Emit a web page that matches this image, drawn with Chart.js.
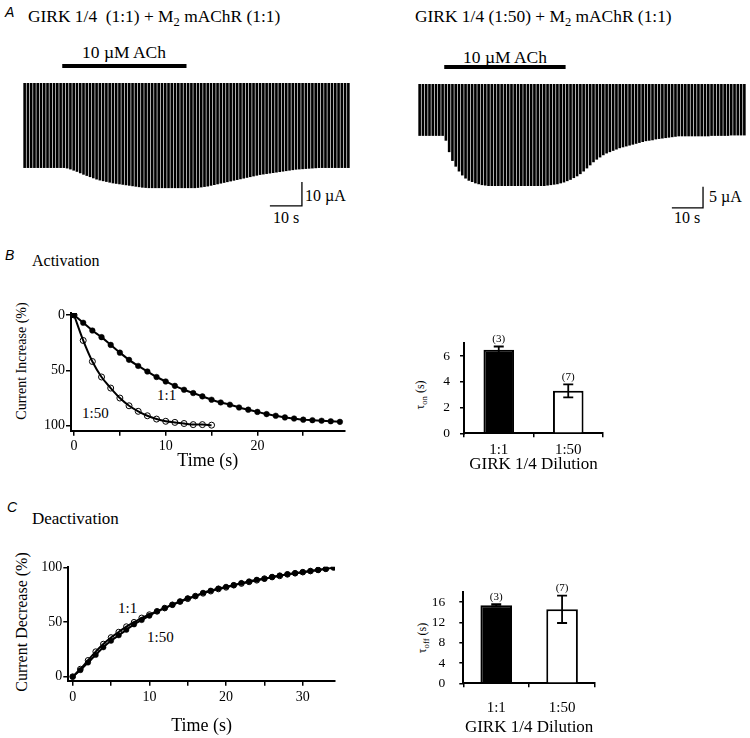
<!DOCTYPE html>
<html>
<head>
<meta charset="utf-8">
<title>GIRK 1/4 activation and deactivation</title>
<script src="https://cdn.jsdelivr.net/npm/chart.js@4.4.1/dist/chart.umd.min.js"></script>
<style>
html, body { margin: 0; padding: 0; background: #fff; }
#fig { position: relative; width: 750px; height: 738px; overflow: hidden; font-family: "Liberation Serif", "Times New Roman", serif; color: #000; }
#fig canvas { position: absolute; }
.t { position: absolute; white-space: nowrap; line-height: 1; font-size: 16px; transform: translateY(-50%); }
.p { font-family: "Liberation Sans", Arial, sans-serif; font-style: italic; font-size: 14px; }
.t sub, .rot sub { font-size: 0.72em; vertical-align: -0.3em; line-height: 0; }
.rot { position: absolute; white-space: nowrap; font-size: 12px; line-height: 1; transform: translate(-50%, -50%) rotate(-90deg); }
</style>
</head>
<body>
<div id="fig">
  <div class="t p" style="left:5px;top:12px">A</div>
  <div class="t" style="left:28px;top:17px;font-size:17.4px">GIRK 1/4&nbsp;&nbsp;(1:1) + M<sub>2</sub> mAChR (1:1)</div>
  <div class="t" style="left:415px;top:17px;font-size:17.4px">GIRK 1/4 (1:50) + M<sub>2</sub> mAChR (1:1)</div>
  <div class="t" style="left:82px;top:53px;font-size:17.5px">10 µM ACh</div>
  <div class="t" style="left:463px;top:58px;font-size:17.5px">10 µM ACh</div>
  <div class="t" style="left:305px;top:196px">10 µA</div>
  <div class="t" style="left:273px;top:218px">10 s</div>
  <div class="t" style="left:709px;top:197px">5 µA</div>
  <div class="t" style="left:674px;top:218px">10 s</div>

  <div class="t p" style="left:5px;top:255px">B</div>
  <div class="t" style="left:32px;top:261px">Activation</div>
  <div class="rot" style="left:22px;top:361px;font-size:14px">Current Increase (%)</div>
  <div class="t" style="left:157px;top:395px;font-size:15px">1:1</div>
  <div class="t" style="left:82px;top:413px;font-size:15px">1:50</div>
  <div class="rot" style="left:420px;top:395px">τ<sub>on</sub> (s)</div>

  <div class="t p" style="left:7px;top:507px">C</div>
  <div class="t" style="left:32px;top:518px;font-size:17px">Deactivation</div>
  <div class="rot" style="left:22px;top:622px;font-size:16px">Current Decrease (%)</div>
  <div class="t" style="left:118px;top:608px;font-size:15px">1:1</div>
  <div class="t" style="left:147px;top:637px;font-size:15px">1:50</div>
  <div class="rot" style="left:422px;top:638px">τ<sub>off</sub> (s)</div>

  <canvas id="traceL" width="327" height="175" style="left:23px;top:40px"></canvas>
  <canvas id="traceR" width="328" height="175" style="left:418px;top:40px"></canvas>
  <canvas id="actCurve" width="360" height="190" style="left:0px;top:290px"></canvas>
  <canvas id="tauOnBar" width="210" height="160" style="left:400px;top:320px"></canvas>
  <canvas id="deactCurve" width="360" height="193" style="left:0px;top:545px"></canvas>
  <canvas id="tauOffBar" width="210" height="168" style="left:400px;top:570px"></canvas>
</div>

<script>
// ── DATA ─────────────────────────────────────────────
// A: peak inward current of each sweep (µA), one sweep ≈ 1 s
const sweeps11 = [
  35.4, 35.4, 35.4, 35.4, 35.4, 35.4, 35.4, 35.4, 35.4, 35.4, 35.4, 35.4, 35.4,
  35.6, 36.0, 36.5, 37.0, 37.6, 38.2, 38.7, 39.2, 39.7, 40.2,
  40.6, 40.9, 41.2, 41.5, 41.8, 42.0, 42.2, 42.4, 42.6, 42.8,
  43.0, 43.2, 43.4, 43.6, 43.7,
  43.8, 43.8, 43.8, 43.8, 43.8, 43.8, 43.8, 43.8, 43.8, 43.8, 43.8, 43.8, 43.8, 43.8, 43.8,
  43.7, 43.5, 43.3, 43.1, 42.8, 42.5, 42.2, 41.9, 41.6, 41.3,
  41.0, 40.7, 40.4, 40.1, 39.8, 39.5, 39.2, 38.9, 38.6, 38.3,
  38.1, 37.9, 37.7, 37.5, 37.3, 37.1, 36.9, 36.7, 36.5, 36.3,
  36.1, 36.0, 35.9, 35.8, 35.7, 35.6, 35.5,
  35.4, 35.4, 35.4, 35.4, 35.4, 35.4, 35.4, 35.4, 35.4, 35.4
];
const sweeps150 = [
  11.8, 11.8, 11.8, 11.8, 11.8, 11.8, 11.8, 11.8,
  12.9, 15.5, 17.5, 18.8, 19.9, 20.8, 21.5, 22.0, 22.3, 22.6, 22.8, 23.0, 23.1,
  23.2, 23.2, 23.2, 23.2, 23.2, 23.2, 23.2, 23.2, 23.2, 23.2, 23.2, 23.2, 23.2, 23.2, 23.2, 23.2, 23.2, 23.2,
  23.1, 23.0, 22.9, 22.8, 22.6, 22.4, 22.1, 21.8, 21.4, 21.0,
  20.5, 19.9, 19.2, 18.5, 17.8, 17.2, 16.7, 16.2, 15.8, 15.5,
  15.2, 14.9, 14.6, 14.4, 14.2, 14.0, 13.8, 13.6, 13.4, 13.2,
  13.0, 12.9, 12.8, 12.6, 12.5, 12.4, 12.3, 12.2, 12.1, 12.0,
  11.9, 11.9, 11.9, 11.9, 11.9, 11.9, 11.9, 11.9, 11.9, 11.9,
  11.8, 11.8, 11.8, 11.8, 11.8, 11.8, 11.7, 11.7, 11.7, 11.7, 11.7
];
const ach11 = [12, 50];     // sweeps during 10 µM ACh
const ach150 = [8, 45];
const scale11 = { x0: 75.5, x1: 85.3, y0: -51.2, y1: -41.2 };   // 10 s / 10 µA
const scale150 = { x0: 77.4, x1: 86.9, y0: -28.2, y1: -23.4 };  // 10 s / 5 µA

// B: activation, current increase (%)
const actTime11 = [0, 1, 2, 3, 4, 5, 6, 7, 8, 9, 10, 11, 12, 13, 14, 15, 16, 17, 18, 19, 20, 21, 22, 23, 24, 25, 26, 27, 28, 29];
const act11 = [0, 7, 14, 20, 27, 34, 40.5, 46, 51, 56, 60, 64, 67.5, 70.5, 73.5, 76.5, 79, 81, 83.5, 85.5, 87.5, 89.5, 91, 92.5, 93.5, 94.5, 95, 95.5, 96, 96.5];
const actTime150 = [0, 1, 2, 3, 4, 5, 6, 7, 8, 9, 10, 11, 12, 13, 14, 15];
const act150 = [0, 23, 42, 56, 66, 75, 82, 87, 91, 94, 96, 97, 98, 99, 99, 99.5];

// C: deactivation, current decrease (%)
const deactTime11 = [0, 1, 2, 3, 4, 5, 6, 7, 8, 9, 10, 11, 12, 13, 14, 15, 16, 17, 18, 19, 20, 21, 22, 23, 24, 25, 26, 27, 28, 29, 30, 31, 32, 33, 34];
const deact11 = [0, 6, 13, 20, 27, 33, 38, 43, 48, 52, 56, 60, 63, 66, 69, 72, 74, 77, 79, 81, 82.5, 84, 86, 87.5, 89, 90, 91.5, 93, 94, 95, 96, 97, 98, 99, 100];
const deactTime150 = [0, 1, 2, 3, 4, 5, 6, 7, 8, 9, 10, 11, 12, 13, 14, 15, 16, 17, 18, 19, 20, 21, 22, 23, 24, 25, 26, 27, 28, 29, 30, 31, 32, 33];
const deact150 = [0, 7, 15, 23, 30, 36, 41, 46, 50, 54, 57, 60, 63, 66, 69, 71.5, 74, 76.5, 78.5, 80.5, 82, 84, 85.5, 87, 88.5, 90, 91.5, 92.5, 94, 95, 96, 97, 98, 99];

// time constants vs GIRK 1/4 dilution
const dilutions = ['1:1', '1:50'];
const tauOn = [6.5, 3.3];
const tauOnSem = [0.25, 0.5];
const tauOnN = [3, 7];
const tauOff = [15.4, 14.6];
const tauOffSem = [0.2, 2.7];
const tauOffN = [3, 7];

// ── SHARED STYLE ─────────────────────────────────────
const SERIF = '"Liberation Serif", "Times New Roman", serif';
const base = { responsive: false, animation: false, devicePixelRatio: 1, events: [] };
const noPlug = { legend: { display: false }, tooltip: { enabled: false } };
const axisGrid = { display: true, drawOnChartArea: false, drawTicks: true, tickLength: 5, color: '#000', lineWidth: 1.5 };
const axisBorder = { display: true, color: '#000', width: 2 };
const fixTicks = vals => s => { s.ticks = vals.map(v => ({ value: v })); };

// ── A: CURRENT TRACES ────────────────────────────────
function traceDecor(ach, bar) {
    return {
        id: 'traceDecor',
        afterDatasetsDraw(chart) {
            const { ctx, chartArea: a, scales: { x, y } } = chart;
            const w = x.width / chart.data.labels.length, px = s => x.left + s * w;
            ctx.save();
            ctx.fillStyle = '#000';
            ctx.fillRect(px(ach[0]), a.top - 19, px(ach[1]) - px(ach[0]), 4);
            ctx.strokeStyle = '#000'; ctx.lineWidth = 1.3;
            ctx.beginPath();
            ctx.moveTo(px(bar.x0), y.getPixelForValue(bar.y0));
            ctx.lineTo(px(bar.x1), y.getPixelForValue(bar.y0));
            ctx.lineTo(px(bar.x1), y.getPixelForValue(bar.y1));
            ctx.stroke();
            ctx.restore();
        }
    };
}
function traceChart(id, amps, ach, bar, yMin, padTop) {
    new Chart(document.getElementById(id), {
        type: 'bar',
        data: { labels: amps.map((_, i) => i), datasets: [{ data: amps.map(a => -a), backgroundColor: '#000', barPercentage: 0.8, categoryPercentage: 1 }] },
        options: { ...base, layout: { padding: { top: padTop } }, plugins: noPlug,
            scales: { x: { display: false }, y: { display: false, min: yMin, max: 0 } } },
        plugins: [traceDecor(ach, bar)]
    });
}
traceChart('traceL', sweeps11, ach11, scale11, -55, 43);
traceChart('traceR', sweeps150, ach150, scale150, -29.8, 44);

// ── B / C: TIME COURSES ──────────────────────────────
const pts = (t, v) => t.map((x, i) => ({ x: x, y: v[i] }));
const filled = (t, v, r) => ({ data: pts(t, v), showLine: true, borderColor: '#000', borderWidth: 2, pointRadius: r, pointBackgroundColor: '#000', pointBorderColor: '#000', pointBorderWidth: 0.5, cubicInterpolationMode: 'monotone' });
const open = (t, v, r) => ({ data: pts(t, v), showLine: true, borderColor: '#000', borderWidth: 2, pointRadius: r, pointBackgroundColor: 'rgba(255,255,255,0)', pointBorderColor: '#000', pointBorderWidth: 1, cubicInterpolationMode: 'monotone' });

function curveChart(id, sets, o) {
    new Chart(document.getElementById(id), {
        type: 'scatter',
        data: { datasets: sets },
        options: { ...base, layout: { padding: o.pad }, plugins: noPlug,
            scales: {
                x: { type: 'linear', min: o.xMin, max: o.xMax, afterBuildTicks: fixTicks(o.xTicks), afterFit: s => { s.height = o.xH; },
                    ticks: { autoSkip: false, maxRotation: 0, padding: o.xPad, color: '#000', font: { family: SERIF, size: 14 }, callback: v => (v % 10 === 0 ? String(v) : '') },
                    grid: axisGrid, border: axisBorder,
                    title: { display: true, text: 'Time (s)', color: '#000', font: { family: SERIF, size: 18 }, padding: { top: 0, bottom: o.xTitlePad } } },
                y: { type: 'linear', reverse: o.reverse, min: o.yMin, max: o.yMax, afterBuildTicks: fixTicks([0, 50, 100]), afterFit: s => { s.width = o.yW; },
                    ticks: { padding: 1, color: '#000', font: { family: SERIF, size: 14 } },
                    grid: axisGrid, border: axisBorder }
            } }
    });
}
curveChart('actCurve', [open(actTime150, act150, 3), filled(actTime11, act11, 2.8)], {
    pad: { top: 23, right: 15.5 }, xMin: -0.33, xMax: 29.5, xTicks: [0, 5, 10, 15, 20, 25], xH: 49.3, xPad: 2, xTitlePad: 8,
    reverse: true, yMin: -1.8, yMax: 104.5, yW: 71
});
curveChart('deactCurve', [open(deactTime150, deact150, 2.8), filled(deactTime11, deact11, 2.7)], {
    pad: { top: 21.7, right: 25 }, xMin: -0.57, xMax: 34.2, xTicks: [0, 5, 10, 15, 20, 25, 30], xH: 57.3, xPad: 3, xTitlePad: 0.5,
    reverse: false, yMin: -3.7, yMax: 101, yW: 68.3
});

// ── B / C: TIME CONSTANT BARS ────────────────────────
const errorBars = {
    id: 'errorBars',
    afterDatasetsDraw(chart, args, opts) {
        const { ctx, scales: { y } } = chart;
        ctx.save();
        ctx.strokeStyle = '#000'; ctx.lineWidth = 1.8; ctx.fillStyle = '#000';
        ctx.font = '11px ' + SERIF; ctx.textAlign = 'center'; ctx.textBaseline = 'bottom';
        chart.getDatasetMeta(0).data.forEach((bar, i) => {
            const top = y.getPixelForValue(opts.means[i] + opts.sems[i]), bot = y.getPixelForValue(opts.means[i] - opts.sems[i]);
            ctx.beginPath();
            ctx.moveTo(bar.x, top); ctx.lineTo(bar.x, bot);
            ctx.moveTo(bar.x - 5, top); ctx.lineTo(bar.x + 5, top);
            ctx.moveTo(bar.x - 5, bot); ctx.lineTo(bar.x + 5, bot);
            ctx.stroke();
            ctx.fillText('(' + opts.ns[i] + ')', bar.x, top - 2);
        });
        ctx.restore();
    }
};
function tauChart(id, means, sems, ns, o) {
    new Chart(document.getElementById(id), {
        type: 'bar',
        data: { labels: dilutions, datasets: [{ data: means, backgroundColor: ['#000', '#fff'], borderColor: '#000', borderWidth: 2, barPercentage: o.barPct, categoryPercentage: 1 }] },
        options: { ...base, layout: { padding: o.pad },
            plugins: { ...noPlug, errorBars: { means: means, sems: sems, ns: ns } },
            scales: {
                x: { afterFit: s => { s.height = o.xH; },
                    ticks: { padding: o.xPad, color: '#000', font: { family: SERIF, size: 15 } },
                    grid: { ...axisGrid, offset: true, tickLength: 4 }, border: axisBorder,
                    title: { display: true, text: 'GIRK 1/4 Dilution', color: '#000', font: { family: SERIF, size: 17 }, padding: { top: 0, bottom: o.xTitlePad } } },
                y: { min: 0, max: o.yMax, afterBuildTicks: fixTicks(o.yTicks), afterFit: s => { s.width = o.yW; },
                    ticks: { padding: o.yPad, color: '#000', font: { family: SERIF, size: 13.5 }, callback: v => (v % o.yLabelStep === 0 ? String(v) : '') },
                    grid: { ...axisGrid, tickLength: 4 }, border: axisBorder }
            } },
        plugins: [errorBars]
    });
}
tauChart('tauOnBar', tauOn, tauOnSem, tauOnN, {
    pad: { top: 23.3, right: 7 }, barPct: 0.44, xH: 46.7, xPad: 4, xTitlePad: 5,
    yMax: 7, yTicks: [0, 1, 2, 3, 4, 5, 6, 7], yLabelStep: 2, yW: 64, yPad: 10
});
tauChart('tauOffBar', tauOff, tauOffSem, tauOffN, {
    pad: { top: 16.7, right: 15 }, barPct: 0.48, xH: 54.7, xPad: 12, xTitlePad: 0,
    yMax: 18, yTicks: [0, 2, 4, 6, 8, 10, 12, 14, 16, 18], yLabelStep: 4, yW: 63.3, yPad: 14
});
</script>
</body>
</html>
